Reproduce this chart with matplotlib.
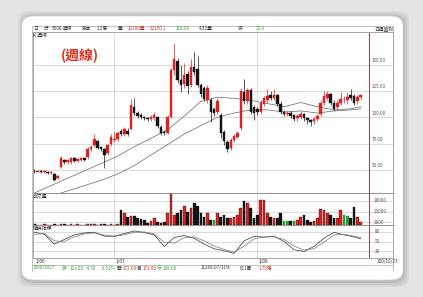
import matplotlib
matplotlib.use("Agg")
import matplotlib.pyplot as plt
from matplotlib.patches import FancyBboxPatch, Rectangle
import matplotlib.transforms as mtransforms

plt.rcParams['font.family'] = ['Noto Sans CJK TC', 'DejaVu Sans']

# ---------------- data ----------------
opens  = [49, 48, 48.5, 48, 47.5, 47, 46, 42, 53, 59, 57, 57, 61, 58, 59, 61, 62, 70, 74, 77,
          72, 70, 66, 75, 78, 79, 87, 84, 87, 89, 110, 104, 102, 100, 99, 98, 99, 100, 91, 86,
          85, 100, 145, 153, 135, 132, 141, 131, 148, 146, 131, 128, 116, 116, 108, 105, 102, 86, 76, 71,
          78, 81, 90, 124, 115, 126, 110, 108, 105, 113, 116, 121, 118, 121, 113, 105, 103, 104, 102, 99,
          100, 103, 99, 97, 96, 98, 103, 114, 118, 122, 114, 110, 114, 117, 116, 121, 120, 115, 119]
closes = [48.5, 48.5, 48, 48.5, 47, 47.5, 40, 44, 61, 57, 59, 61, 58, 60, 61, 59, 70, 72, 79, 71,
          70, 64, 74, 81, 79, 85, 84, 89, 84, 112, 104, 101, 100, 99, 98, 100, 102, 92, 85, 85,
          100, 145, 155, 135, 131, 140, 130, 148, 143, 131, 122, 117, 128, 105, 104, 115, 85, 77, 70, 78,
          82, 85, 125, 115, 126, 105, 104, 105, 114, 118, 120, 118, 121, 113, 105, 103, 104, 101, 98, 101,
          103, 99, 97, 95, 98, 101, 114, 120, 122, 114, 108, 114, 117, 117.5, 119, 118, 114, 119, 121]
highs  = [51, 49.5, 49.5, 49.5, 48.5, 48.5, 47, 45, 63, 60, 60, 62, 62, 61, 62, 62, 72, 74, 84, 78,
          73, 71, 75, 84, 86, 87, 89, 91, 90, 117, 118, 106, 104, 101, 100, 102, 105, 101, 93, 88,
          102, 147, 171, 156, 150, 152, 144, 155, 162, 158, 133, 130, 131, 118, 110, 118, 104, 88, 78, 80,
          84, 87, 128, 136, 128, 128, 112, 110, 116, 120, 127, 125, 127, 122, 115, 107, 106, 106, 103, 103,
          106, 104, 100, 98, 100, 103, 116, 125, 125, 123, 116, 116, 124, 120, 124, 127, 122, 121, 122]
lows   = [47, 47.5, 47, 47, 46, 46, 39, 41, 52, 56, 56, 56, 57, 57, 58, 58, 60, 68, 72, 70,
          68, 52, 64, 73, 76, 77, 82, 82, 82, 88, 102, 99, 98, 97, 96, 96, 97, 90, 83, 83,
          84, 99, 140, 133, 124, 128, 122, 129, 140, 129, 119, 115, 114, 95, 101, 103, 80, 74, 67, 69,
          76, 80, 88, 113, 113, 103, 97, 102, 103, 111, 114, 116, 116, 111, 103, 101, 101, 99, 96, 96,
          98, 96, 94, 92, 94, 96, 101, 112, 116, 112, 106, 107, 112, 114, 113, 116, 112, 113, 117]

ma_fast_idx = [0, 5, 10, 15, 20, 25, 30, 35, 40, 45, 50, 55, 60, 65, 70, 75, 80, 85, 90, 95, 98]
ma_fast     = [28, 35, 42, 49, 56, 63, 72, 80, 88, 101, 115, 119, 118, 116, 113, 110, 114, 110, 107, 108, 110]
ma_slow_idx = [8, 10, 15, 20, 25, 30, 35, 40, 45, 50, 55, 60, 65, 70, 75, 80, 85, 90, 95, 98]
ma_slow     = [28, 30, 35, 40, 46, 54, 64, 74, 84, 92, 100, 104, 107, 107, 105, 106, 104, 106, 107, 108]

volumes = [400, 350, 300, 450, 300, 350, 500, 300, 600, 400, 350, 400, 300, 450, 350, 300, 500, 400, 450, 350,
           400, 500, 350, 400, 300, 450, 10900, 8800, 6300, 6800, 6800, 5050, 4300, 3800, 1800, 3300, 5050, 2500, 1800, 2500,
           8800, 24000, 7600, 8800, 10900, 13900, 10100, 12600, 16400, 13900, 8800, 6300, 8800, 3800, 3800, 8800, 6300, 7600, 5050, 5050,
           6300, 7600, 12600, 17700, 16400, 12600, 5050, 7600, 18900, 18900, 8800, 6300, 5050, 5050, 8800, 3000, 3000, 3000, 3000, 3800,
           6300, 7600, 3800, 2500, 3000, 5050, 11900, 10900, 8800, 7600, 5050, 5050, 10900, 7600, 6800, 5050, 13400, 5800, 2500]
flat_volume_idx = [54, 75, 76, 78, 93, 94]

kd_idx = [0, 3, 6, 9, 12, 15, 18, 21, 24, 27, 30, 33, 36, 39, 42, 45, 48, 51, 54, 57, 60, 63, 66, 69, 72, 75, 78, 81, 84, 87, 90, 93, 96, 98]
k_vals = [78, 72, 42, 56, 70, 76, 78, 66, 66, 74, 82, 77, 70, 35, 62, 68, 60, 42, 28, 22, 14, 52, 66, 63, 66, 50, 25, 20, 35, 60, 78, 70, 64, 58]
d_vals = [72, 74, 52, 50, 64, 73, 76, 70, 66, 70, 78, 79, 73, 48, 45, 62, 64, 52, 36, 26, 18, 36, 58, 64, 64, 56, 36, 24, 28, 48, 70, 72, 66, 62]

price_ticks = [50, 75, 100, 125, 150]
price_labels = ["50.00", "75.00", "100.00", "125.00", "150.00"]
vol_ticks = [2000, 10000, 18000]
vol_labels = ["2000", "10000", "18000"]
kd_ticks = [20, 50, 80]
date_idx = [0, 24, 67]
date_labels = ["1/06", "1/07", "1/08"]

# ---------------- figure ----------------
W, H = 423, 297
fig = plt.figure(figsize=(W / 100, H / 100), dpi=100)
fig.patch.set_facecolor("#e4e4e4")

def fx(x):
    return x / W

def fy(y):
    return 1 - y / H

# shadow + card (behind the axes)
for k, a in [(6, 0.05), (4, 0.06), (2, 0.08)]:
    fig.patches.append(FancyBboxPatch((fx(22 - k + 2), fy(281 + k)), fx(381 + 2 * k - 2), (264 + 2 * k) / H,
                                      boxstyle="round,pad=0,rounding_size=0.03", transform=fig.transFigure,
                                      facecolor="black", edgecolor="none", alpha=a, zorder=-3))
fig.patches.append(FancyBboxPatch((fx(22), fy(280)), fx(381), 264 / H,
                                  boxstyle="round,pad=0,rounding_size=0.03", transform=fig.transFigure,
                                  facecolor="white", edgecolor="#d8d8d8", linewidth=0.5, zorder=-2))

L, R = 33, 393
XL = -0.4
PPU = 3.33
XR = XL + (R - L) / PPU
XSEP = XL + (369 - L) / PPU

ax = fig.add_axes([fx(L), fy(193), (R - L) / W, (193 - 32) / H])
axv = fig.add_axes([fx(L), fy(225), (R - L) / W, (225 - 193) / H])
axs = fig.add_axes([fx(L), fy(258), (R - L) / W, (258 - 225) / H])

RED = "#dd2222"
BLK = "#151515"
GRN = "#2ea02e"
GRID = "#cccccc"
SEP = "#b03a3a"

for a in (ax, axv, axs):
    a.set_xlim(XL, XR)
    a.set_xticks([])
    a.set_yticks([])
    for s in a.spines.values():
        s.set_color("#999999")
        s.set_linewidth(0.6)
    a.set_facecolor("none")
    a.axvline(XSEP, color=SEP, lw=0.7, zorder=3)
    for d in date_idx[1:]:
        a.axvline(d, color=GRID, lw=0.5, zorder=0)
ax.spines["bottom"].set_color(SEP)
axv.spines["bottom"].set_color(SEP)

# price panel
ax.set_ylim(28, 181)
for t, lab in zip(price_ticks, price_labels):
    ax.axhline(t, color=GRID, lw=0.5, zorder=0)
    ax.text((372 - L) / (R - L), t + 1.5, lab, transform=mtransforms.blended_transform_factory(ax.transAxes, ax.transData),
            fontsize=3.3, color="#555555", va="bottom", ha="left")

for i in range(len(opens)):
    o, c, h, l = opens[i], closes[i], highs[i], lows[i]
    col = RED if c >= o else BLK
    ax.vlines(i, l, h, color=col, lw=0.5, zorder=2)
    b = max(abs(c - o), 0.6)
    ax.add_patch(Rectangle((i - 0.38, min(o, c)), 0.76, b, facecolor=col, edgecolor=col, lw=0.3, zorder=3))

ax.plot(ma_fast_idx, ma_fast, color="#666666", lw=0.5, zorder=1)
ax.plot(ma_slow_idx, ma_slow, color="#666666", lw=0.5, zorder=1)

ax.text(0.0, 0.995, "K 週線", transform=ax.transAxes, fontsize=3.5, color="#333333", va="top", ha="left")
ax.text(8, 158, "(週線)", fontsize=10, fontweight="bold", color="#e0301e", ha="left", va="center")

# volume panel
axv.set_ylim(0, 24000)
for t, lab in zip(vol_ticks, vol_labels):
    axv.axhline(t, color=GRID, lw=0.5, zorder=0)
    axv.text((374 - L) / (R - L), t, lab, transform=mtransforms.blended_transform_factory(axv.transAxes, axv.transData),
             fontsize=3.3, color="#555555", va="center", ha="left")
for i, v in enumerate(volumes):
    if i in flat_volume_idx:
        col = GRN
    else:
        col = RED if closes[i] >= opens[i] else BLK
    axv.bar(i, v, width=0.8, color=col, edgecolor=BLK if col == RED else col, linewidth=0.25, zorder=2)
axv.text(0.0, 0.97, "成交量", transform=axv.transAxes, fontsize=3.5, color="#333333", va="top", ha="left")

# stochastic panel
axs.set_ylim(0, 100)
for t in kd_ticks:
    axs.axhline(t, color=GRID, lw=0.5, zorder=0)
    axs.text((375 - L) / (R - L), t, str(t), transform=mtransforms.blended_transform_factory(axs.transAxes, axs.transData),
             fontsize=3.3, color="#555555", va="center", ha="left")
axs.plot(kd_idx, k_vals, color="#333333", lw=0.5)
axs.plot(kd_idx, d_vals, color="#777777", lw=0.5)
axs.text(0.0, 0.97, "隨機指標", transform=axs.transAxes, fontsize=3.5, color="#333333", va="top", ha="left")

# header row
hdr = [(33, "日", "#333333"), (44, "分", "#333333"), (52, "5508", "#333333"), (63, "週線", "#333333"),
       (82, "股本", "#333333"), (97, "1.1億", "#333333"), (118, "量", "#333333"), (128, "12100量", "#d03030"),
       (150, "12150↓", "#d03030"), (176, "118.00", "#3aa03a"), (199, "4.32量", "#333333"),
       (238, "漲", "#333333"), (256, "12.0", "#3aa03a"), (374, "日週盤別", "#333333")]
for x, s, c in hdr:
    fig.text(fx(x), fy(28.5), s, fontsize=3.4, color=c, va="center", ha="left")
fig.add_artist(plt.Line2D([fx(32), fx(R)], [fy(26), fy(26)], color="#aaaaaa", lw=0.5))
fig.add_artist(plt.Line2D([fx(32), fx(R)], [fy(31.5), fy(31.5)], color="#aaaaaa", lw=0.5))

# date row
for d, lab in zip(date_idx, date_labels):
    xpix = L + (d - XL) * PPU
    fig.text(fx(xpix + 1), fy(261.5), lab, fontsize=3.4, color="#333333", va="center", ha="left")
fig.text(fx(377), fy(261.5), "100/10/27", fontsize=3.3, color="#333333", va="center", ha="left")
fig.add_artist(plt.Line2D([fx(32), fx(R)], [fy(265), fy(265)], color="#aaaaaa", lw=0.5))

# info row
info = [(33, "1080/1027", "#3aa03a"), (62, "漲", "#3aa03a"), (70, "121.00", "#3aa03a"), (86, "-4.50", "#3aa03a"),
        (101, "-3.61%", "#3aa03a"), (117, "開", "#333333"), (123, "172.00", "#d03030"), (137, "高", "#333333"),
        (143, "171.00", "#d03030"), (157, "低", "#3aa03a"), (163, "108.00", "#3aa03a"),
        (201, "11168.07/11%", "#333333"), (240, "611萬", "#333333"), (259, "1.75億", "#d03030")]
for x, s, c in info:
    fig.text(fx(x), fy(268), s, fontsize=3.3, color=c, va="center", ha="left")
fig.add_artist(plt.Line2D([fx(32), fx(32)], [fy(26), fy(271)], color="#aaaaaa", lw=0.5))
fig.add_artist(plt.Line2D([fx(R), fx(R)], [fy(26), fy(271)], color="#aaaaaa", lw=0.5))

fig.savefig("out.png", dpi=100, facecolor=fig.get_facecolor())
